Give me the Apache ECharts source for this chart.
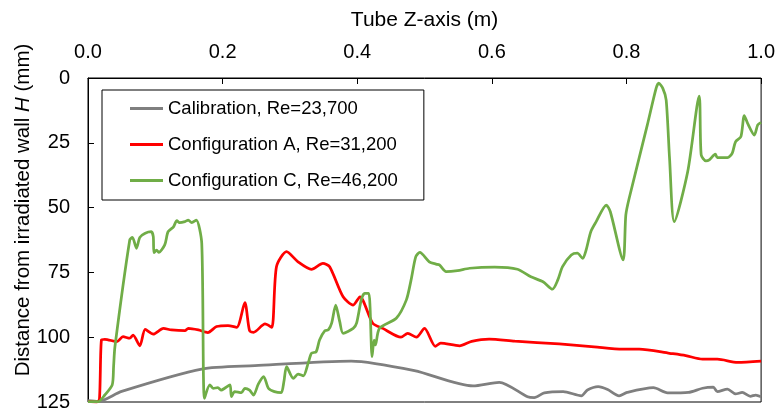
<!DOCTYPE html>
<html>
<head>
<meta charset="utf-8">
<script src="https://cdn.jsdelivr.net/npm/echarts@6/dist/echarts.min.js"></script>
<style>
  html, body { margin: 0; padding: 0; background: #fff; }
  #chart { width: 778px; height: 412px; }
</style>
</head>
<body>
<div id="chart"></div>
<script>
// Tube position (m) and distance from the irradiated wall H (mm) for each run
const calibZ = [0, 0.015, 0.05, 0.169, 0.248, 0.391, 0.485, 0.572, 0.611, 0.653, 0.663, 0.678, 0.706, 0.733, 0.742, 0.758, 0.772, 0.789, 0.801, 0.840, 0.861, 0.892, 0.913, 0.929, 0.935, 0.950, 0.962, 0.972, 0.984, 0.992, 1.0];
const calibH = [124.5, 124.8, 120.9, 112.3, 111, 109.2, 112.9, 118.8, 117.4, 123, 123.3, 121.5, 121, 122.6, 120.4, 119.1, 120.2, 122.6, 121.3, 119.5, 121.5, 121.3, 119.7, 119.3, 121, 120, 121.9, 121.3, 122.8, 122.3, 123];

const configAZ = [0, 0.013, 0.017, 0.02, 0.025, 0.043, 0.052, 0.062, 0.067, 0.077, 0.085, 0.097, 0.112, 0.124, 0.144, 0.149, 0.164, 0.178, 0.191, 0.208, 0.221, 0.233, 0.240, 0.246, 0.263, 0.273, 0.280, 0.295, 0.312, 0.332, 0.349, 0.359, 0.379, 0.394, 0.404, 0.423, 0.438, 0.465, 0.475, 0.488, 0.500, 0.516, 0.524, 0.552, 0.570, 0.596, 0.634, 0.700, 0.752, 0.794, 0.819, 0.864, 0.888, 0.913, 0.935, 0.965, 1.0];
const configAH = [124.8, 125, 124, 101, 100.8, 101.7, 99.8, 100.4, 99.2, 103.3, 97, 98.8, 96.6, 97.2, 97.5, 96.6, 97.2, 98.2, 95.9, 95.5, 96.2, 86.7, 97.5, 98.1, 94.9, 96.2, 72.8, 67, 70.9, 73.8, 71.5, 72.8, 84.4, 87.6, 84.4, 94.6, 96.6, 100, 98.5, 100, 96.6, 103.5, 102.3, 103.3, 101.6, 100.7, 101.5, 102.6, 103.7, 104.6, 104.6, 106.2, 107.1, 108.5, 108.5, 109.7, 109.2];

const configCZ = [0, 0.015, 0.025, 0.036, 0.038, 0.040, 0.062, 0.066, 0.072, 0.077, 0.085, 0.094, 0.097, 0.098, 0.102, 0.105, 0.114, 0.119, 0.127, 0.132, 0.136, 0.144, 0.149, 0.154, 0.161, 0.169, 0.173, 0.181, 0.186, 0.193, 0.198, 0.203, 0.211, 0.213, 0.218, 0.228, 0.233, 0.240, 0.246, 0.253, 0.261, 0.268, 0.277, 0.287, 0.291, 0.295, 0.305, 0.312, 0.320, 0.327, 0.332, 0.339, 0.344, 0.352, 0.357, 0.362, 0.368, 0.374, 0.379, 0.394, 0.399, 0.406, 0.411, 0.417, 0.419, 0.422, 0.425, 0.427, 0.433, 0.458, 0.473, 0.480, 0.487, 0.493, 0.507, 0.517, 0.522, 0.532, 0.549, 0.567, 0.604, 0.638, 0.658, 0.676, 0.690, 0.698, 0.705, 0.718, 0.727, 0.735, 0.740, 0.747, 0.755, 0.770, 0.776, 0.795, 0.799, 0.804, 0.831, 0.844, 0.848, 0.854, 0.859, 0.864, 0.871, 0.891, 0.908, 0.911, 0.918, 0.923, 0.932, 0.935, 0.950, 0.957, 0.962, 0.970, 0.975, 0.980, 0.990, 0.995, 1.0];
const configCH = [124.9, 124.9, 122.3, 118.4, 111.4, 103.7, 62.5, 61.5, 65.7, 61.5, 59.9, 59.3, 61.2, 67.4, 66.4, 67.3, 64.4, 59.3, 57.4, 55, 55.8, 55.4, 54.8, 55.8, 54.8, 63.8, 123.6, 118.4, 119.7, 119.5, 120.4, 119.7, 118.4, 122.9, 121, 121.4, 119.7, 120.4, 122.3, 118.1, 115.2, 119.7, 121, 121.4, 117.2, 111.4, 115.9, 114.2, 114.9, 110.1, 106.2, 105.6, 101.1, 97.5, 97.2, 94.6, 87.6, 94, 98.5, 96.6, 94.6, 85.6, 83.1, 83.1, 88.2, 107.5, 101.1, 103, 96.6, 92.7, 85.6, 77.9, 68.9, 67.3, 70.9, 71.8, 72.1, 74.7, 74.3, 73.4, 73, 73.8, 76.7, 78.6, 81.5, 77.9, 72.8, 68.3, 67.6, 69.6, 66.4, 59.3, 55.4, 49, 51.6, 70.2, 52.9, 46.4, 18.1, 4, 2, 4, 8.5, 31, 55.4, 36.1, 7, 29.7, 32, 31.6, 29.4, 30.7, 30.7, 29.1, 24.6, 22.6, 14.5, 17.5, 22, 18.1, 17.1];

const seriesNames = ['Calibration, Re=23,700', 'Configuration A, Re=31,200', 'Configuration C, Re=46,200'];
const xAxisTitle = 'Tube Z-axis (m)';

const FONT = '"Liberation Sans", Arial, sans-serif';
const pairs = (xs, ys) => xs.map((x, i) => [x, ys[i]]);

const chart = echarts.init(document.getElementById('chart'), null, { renderer: 'canvas' });

const lineSeries = (name, xs, ys, color) => ({
  name,
  type: 'line',
  data: pairs(xs, ys),
  showSymbol: false,
  symbol: 'none',
  smooth: 0.25,
  clip: true,
  lineStyle: { color, width: 2.75 },
  itemStyle: { color },
  animation: false
});

chart.setOption({
  animation: false,
  backgroundColor: '#ffffff',
  textStyle: { fontFamily: FONT },
  grid: {
    left: 88, right: 16, top: 78, bottom: 9,
    show: true, borderColor: '#000', borderWidth: 1, backgroundColor: 'transparent'
  },
  legend: {
    orient: 'vertical',
    left: 102, top: 90,
    padding: [8, 26, 9, 28],
    itemWidth: 33, itemHeight: 3, itemGap: 15,
    icon: 'rect',
    backgroundColor: '#fff',
    borderColor: '#000', borderWidth: 1, borderRadius: 0,
    textStyle: { fontFamily: FONT, fontSize: 18.5, color: '#000', lineHeight: 21 },
    data: seriesNames
  },
  xAxis: {
    type: 'value',
    position: 'top',
    min: 0, max: 1, interval: 0.2,
    name: xAxisTitle,
    nameLocation: 'middle',
    nameGap: 47,
    nameTextStyle: { fontFamily: FONT, fontSize: 21, color: '#000' },
    axisLine: { show: true, lineStyle: { color: '#000', width: 1 } },
    axisTick: { show: true, inside: true, length: 6, lineStyle: { color: '#000' } },
    axisLabel: {
      fontFamily: FONT, fontSize: 20, color: '#000', margin: 16,
      formatter: v => v.toFixed(1)
    },
    splitLine: { show: false }
  },
  yAxis: {
    type: 'value',
    inverse: true,
    min: 0, max: 125, interval: 25,
    axisLine: { show: true, lineStyle: { color: '#000', width: 1 } },
    axisTick: { show: true, inside: true, length: 6, lineStyle: { color: '#000' } },
    axisLabel: { fontFamily: FONT, fontSize: 20, color: '#000', margin: 18 },
    splitLine: { show: false }
  },
  graphic: [{
    type: 'text',
    x: 23, y: 210,
    rotation: Math.PI / 2,
    style: {
      text: '{n|Distance from irradiated wall }{i|H}{n| (mm)}',
      align: 'center',
      verticalAlign: 'middle',
      fill: '#000',
      rich: {
        n: { fontFamily: FONT, fontSize: 20.5, fill: '#000' },
        i: { fontFamily: FONT, fontSize: 20.5, fontStyle: 'italic', fill: '#000' }
      }
    }
  }],
  series: [
    lineSeries(seriesNames[0], calibZ, calibH, '#7f7f7f'),
    lineSeries(seriesNames[1], configAZ, configAH, '#ff0000'),
    lineSeries(seriesNames[2], configCZ, configCH, '#70ad47')
  ]
});
</script>
</body>
</html>
